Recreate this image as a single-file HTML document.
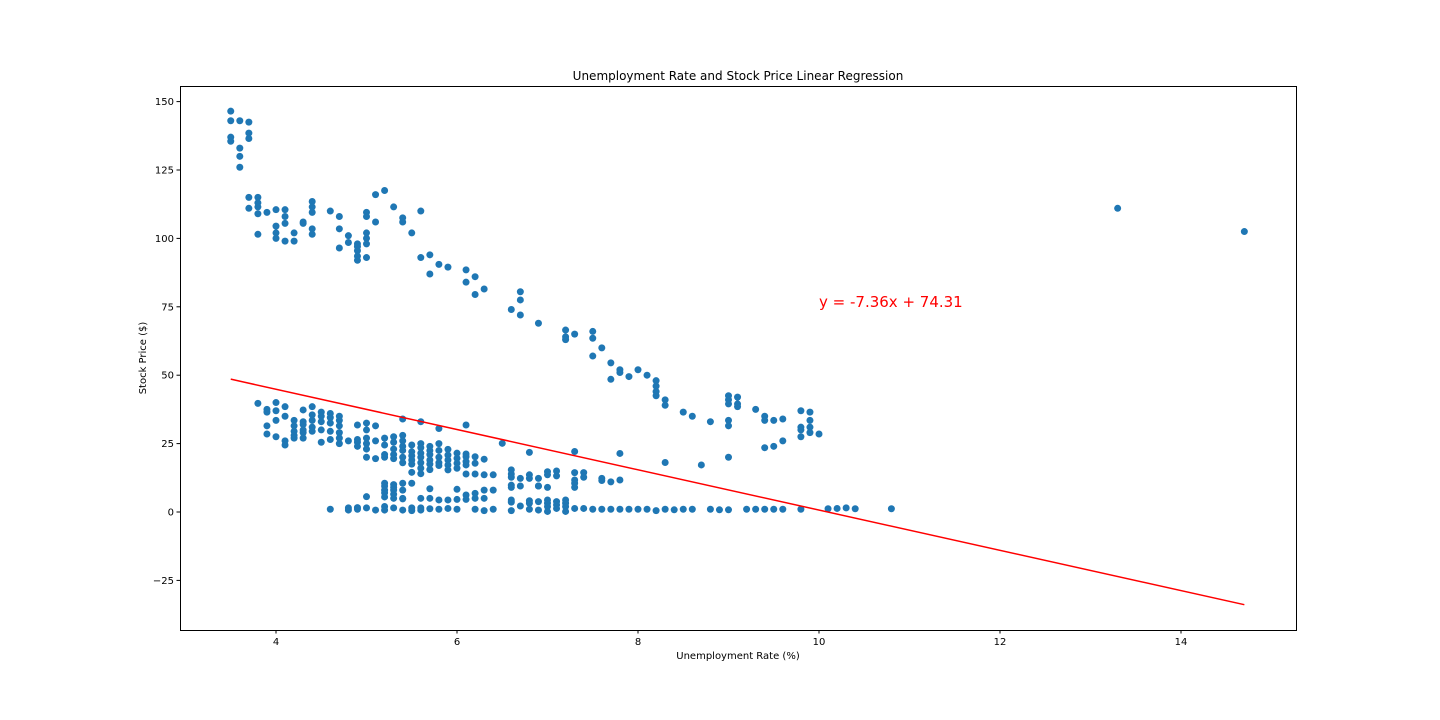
<!DOCTYPE html>
<html><head><meta charset="utf-8"><style>
body{margin:0;background:#fff;}
svg{display:block;font-family:"DejaVu Sans","Liberation Sans",sans-serif;}
</style></head><body>
<svg id="chart" width="1440" height="720" xmlns="http://www.w3.org/2000/svg">
<rect x="0" y="0" width="1440" height="720" fill="#fff"/>
<text x="738" y="80" text-anchor="middle" font-size="12">Unemployment Rate and Stock Price Linear Regression</text>
<text x="738" y="659" text-anchor="middle" font-size="10">Unemployment Rate (%)</text>
<text transform="translate(146,358) rotate(-90)" text-anchor="middle" font-size="10">Stock Price ($)</text>
<g id="xt"></g><g id="yt"></g>
<g id="pts"></g>
<g id="reg"></g>
<rect x="180.5" y="86.5" width="1116" height="544" fill="none" stroke="#000" stroke-width="1"/>
</svg>
<script>
const xTicks=[4,6,8,10,12,14];
const yTicks=[-25,0,25,50,75,100,125,150];
const regSlope=-7.36;
const regIntercept=74.31;
const regXRange=[3.5,14.7];
const regLabel="y = -7.36x + 74.31";
const regLabelPos=[10,75];
const upperX=[3.5,3.5,3.5,3.5,3.6,3.6,3.6,3.6,3.7,3.7,3.7,3.7,3.7,3.8,3.8,3.8,3.8,3.8,3.9,4.0,4.0,4.0,4.0,4.1,4.1,4.1,4.1,4.2,4.2,4.3,4.3,4.4,4.4,4.4,4.4,4.4,4.6,4.7,4.7,4.7,4.8,4.8,4.9,4.9,4.9,4.9,4.9,5.0,5.0,5.0,5.0,5.0,5.0,5.1,5.1,5.2,5.3,5.4,5.4,5.5,5.6,5.6,5.7,5.7,5.8,5.9,6.1,6.1,6.2,6.2,6.3,6.6,6.7,6.7,6.7,6.9,7.2,7.2,7.2,7.3,7.5,7.5,7.5,7.6,7.7,7.7,7.8,7.8,7.9,8.0,8.1,8.2,8.2,8.2,8.2,8.3,8.3,8.5,8.6,8.8,9.0,9.0,9.0,9.0,9.0,9.0,9.1,9.1,9.1,9.3,9.4,9.4,9.4,9.5,9.5,9.6,9.6,9.8,9.8,9.8,9.8,9.9,9.9,9.9,9.9,10.0,13.3,14.7];
const upperY=[146.5,143,137,135.5,143,133,130,126,142.5,138.5,136.5,115,111,115,113,111.5,109,101.5,109.5,110.5,104.5,102,100,110.5,108,105.5,99,102,99,106,105.5,113.5,111.5,109.5,103.5,101.5,110,108,103.5,96.5,101,98.5,98,97,95.5,93.5,92,109.5,108,102,100,98,93,116,106,117.5,111.5,107.5,106,102,110,93,94,87,90.5,89.5,88.5,84,86,79.5,81.5,74,80.5,77.5,72,69,66.5,64,63,65,66,63.5,57,60,54.5,48.5,52,51,49.5,52,50,48,46,44,42.5,41,39,36.5,35,33,42.5,41,39.5,33.5,31.5,20,42,39.5,38.5,37.5,35,33.5,23.5,33.5,24,34,26,37,31,30,27.5,36.5,33.5,31,29,28.5,111,102.5];
const midX=[3.8,3.9,3.9,3.9,3.9,4.0,4.0,4.0,4.0,4.1,4.1,4.1,4.1,4.2,4.2,4.2,4.2,4.2,4.3,4.3,4.3,4.3,4.3,4.3,4.4,4.4,4.4,4.4,4.4,4.5,4.5,4.5,4.5,4.5,4.6,4.6,4.6,4.6,4.6,4.7,4.7,4.7,4.7,4.7,4.7,4.8,4.9,4.9,4.9,4.9,5.0,5.0,5.0,5.0,5.0,5.0,5.1,5.1,5.1,5.2,5.2,5.2,5.2,5.3,5.3,5.3,5.3,5.3,5.4,5.4,5.4,5.4,5.4,5.4,5.4,5.5,5.5,5.5,5.5,5.5,5.5,5.6,5.6,5.6,5.6,5.6,5.6,5.6,5.6,5.7,5.7,5.7,5.7,5.7,5.7,5.8,5.8,5.8,5.8,5.8,5.8,5.9,5.9,5.9,5.9,5.9,6.0,6.0,6.0,6.0,6.1,6.1,6.1,6.1,6.1,6.1,6.2,6.2,6.2,6.3,6.3,6.4,6.5,6.6,6.6,6.6,6.7,6.8,6.8,6.8,6.9,6.9,7.0,7.0,7.0,7.1,7.1,7.3,7.3,7.3,7.3,7.3,7.4,7.4,7.6,7.6,7.7,7.8,7.8,8.3,8.7];
const midY=[39.7,37.5,36.5,31.5,28.5,40,37,33.5,27.5,38.5,35,26,24.5,33.5,31.5,29.5,28,27,37.3,33,32,30,29,27,38.5,35.5,33.5,31,29.5,36.5,35,33,30,25.5,36,34.5,32.5,29.5,26.5,35,33.5,31.5,29,27,25,26,31.8,26.5,25.5,24,32.5,30,27,25,23,20,31.5,26,19.5,27,24.5,21,20,27.5,25.5,23,21,19.5,34,28,26,24,22.5,20,18,24.5,22,20.5,19,17.5,14.5,33,25,23.5,21.5,20,18,16,14,24,22.5,21,19,17.5,15.5,30.5,25,22.5,20,18,17,22.9,20.8,19,17.2,15.4,21.5,19.6,17.8,16,31.8,21.2,20.2,18.4,17.2,13.9,20.2,17.8,13.9,19.3,13.6,13.6,25.1,15.4,13.9,12.7,12.3,21.8,13.6,12.3,12.3,9.5,14.7,13.6,9,15,13.2,22.1,14.4,11.7,10.5,9,14.4,12.7,12.3,11.5,11,21.4,11.7,18.1,17.2];
const lowX=[4.6,4.8,4.8,4.9,4.9,5.0,5.0,5.1,5.2,5.2,5.2,5.2,5.2,5.2,5.2,5.3,5.3,5.3,5.3,5.3,5.3,5.4,5.4,5.4,5.4,5.4,5.5,5.5,5.5,5.6,5.6,5.6,5.7,5.7,5.7,5.8,5.8,5.9,5.9,6.0,6.0,6.0,6.1,6.1,6.2,6.2,6.2,6.3,6.3,6.3,6.4,6.4,6.6,6.6,6.6,6.6,6.6,6.7,6.7,6.8,6.8,6.8,6.9,6.9,6.9,7.0,7.0,7.0,7.0,7.1,7.1,7.1,7.2,7.2,7.2,7.2,7.3,7.4,7.5,7.6,7.7,7.8,7.9,8.0,8.1,8.2,8.3,8.4,8.5,8.6,8.8,8.9,9.0,9.2,9.3,9.4,9.5,9.6,9.8,10.1,10.2,10.3,10.4,10.8];
const lowY=[1,1.5,0.7,1.6,1,5.6,1.5,0.7,10.5,9.5,8,7,5.5,2,0.7,10,9,8,6.5,5,1.5,10.5,8,5,4.8,0.7,10.5,1.5,0.5,5,1.5,0.7,8.5,5,1.2,4.4,1,4.4,1.3,8.3,4.6,1,6.2,4.6,6.8,5,1,8,5,0.5,8,1,9.8,9,4.4,3.6,0.5,9.5,2.2,4.1,3.2,1,3.8,0.7,9.5,4.4,3.2,2,0.2,3.8,2.6,1.3,4.4,3.2,2,0.2,1.3,1.3,1,1,1,1,1,1,1,0.5,1,0.8,1,1,1,0.8,0.8,1,1,1,1,1,1,1.2,1.3,1.5,1.2,1.2];

const X0=180,X1=1296,Y0=86,Y1=630;
function sx(v){return 276+(v-4)*90.5;}
function sy(v){return 512-v*2.736;}
const NS="http://www.w3.org/2000/svg";
function mk(tag,attrs,parent){const e=document.createElementNS(NS,tag);for(const k in attrs)e.setAttribute(k,attrs[k]);parent.appendChild(e);return e;}
const xt=document.getElementById('xt'),yt=document.getElementById('yt');
xTicks.forEach(t=>{
  const x=sx(t);
  const l=mk('line',{x1:x,x2:x,y1:Y1,y2:Y1+3.5,stroke:'#000'},xt);
  
  
  const tx=mk('text',{x:x,y:Y1+15,'text-anchor':'middle','font-size':10},xt);
  tx.textContent=t;
  
  
});
yTicks.forEach(t=>{
  const y=sy(t);
  const l=mk('line',{x1:X0-3.5,x2:X0,y1:y,y2:y,stroke:'#000'},yt);
  
  
  const tx=mk('text',{x:X0-6,y:y+3.5,'text-anchor':'end','font-size':10},yt);
  tx.textContent=(t<0?'\u2212'+(-t):t);
  
  
});
const pts=document.getElementById('pts');
[[upperX,upperY],[midX,midY],[lowX,lowY]].forEach(([xs,ys])=>{
  xs.forEach((v,i)=>{
    const c=mk('circle',{cx:sx(v),cy:sy(ys[i]),r:3.5,fill:'#1f77b4'},pts);
    
    
  });
});
const reg=document.getElementById('reg');
const ln=mk('line',{x1:sx(regXRange[0]),y1:sy(regSlope*regXRange[0]+regIntercept),x2:sx(regXRange[1]),y2:sy(regSlope*regXRange[1]+regIntercept),stroke:'#ff0000','stroke-width':1.5},reg);


const lt=mk('text',{x:sx(regLabelPos[0]),y:sy(regLabelPos[1]),'font-size':15,fill:'#ff0000'},reg);
lt.textContent=regLabel;


</script>
</body></html>
